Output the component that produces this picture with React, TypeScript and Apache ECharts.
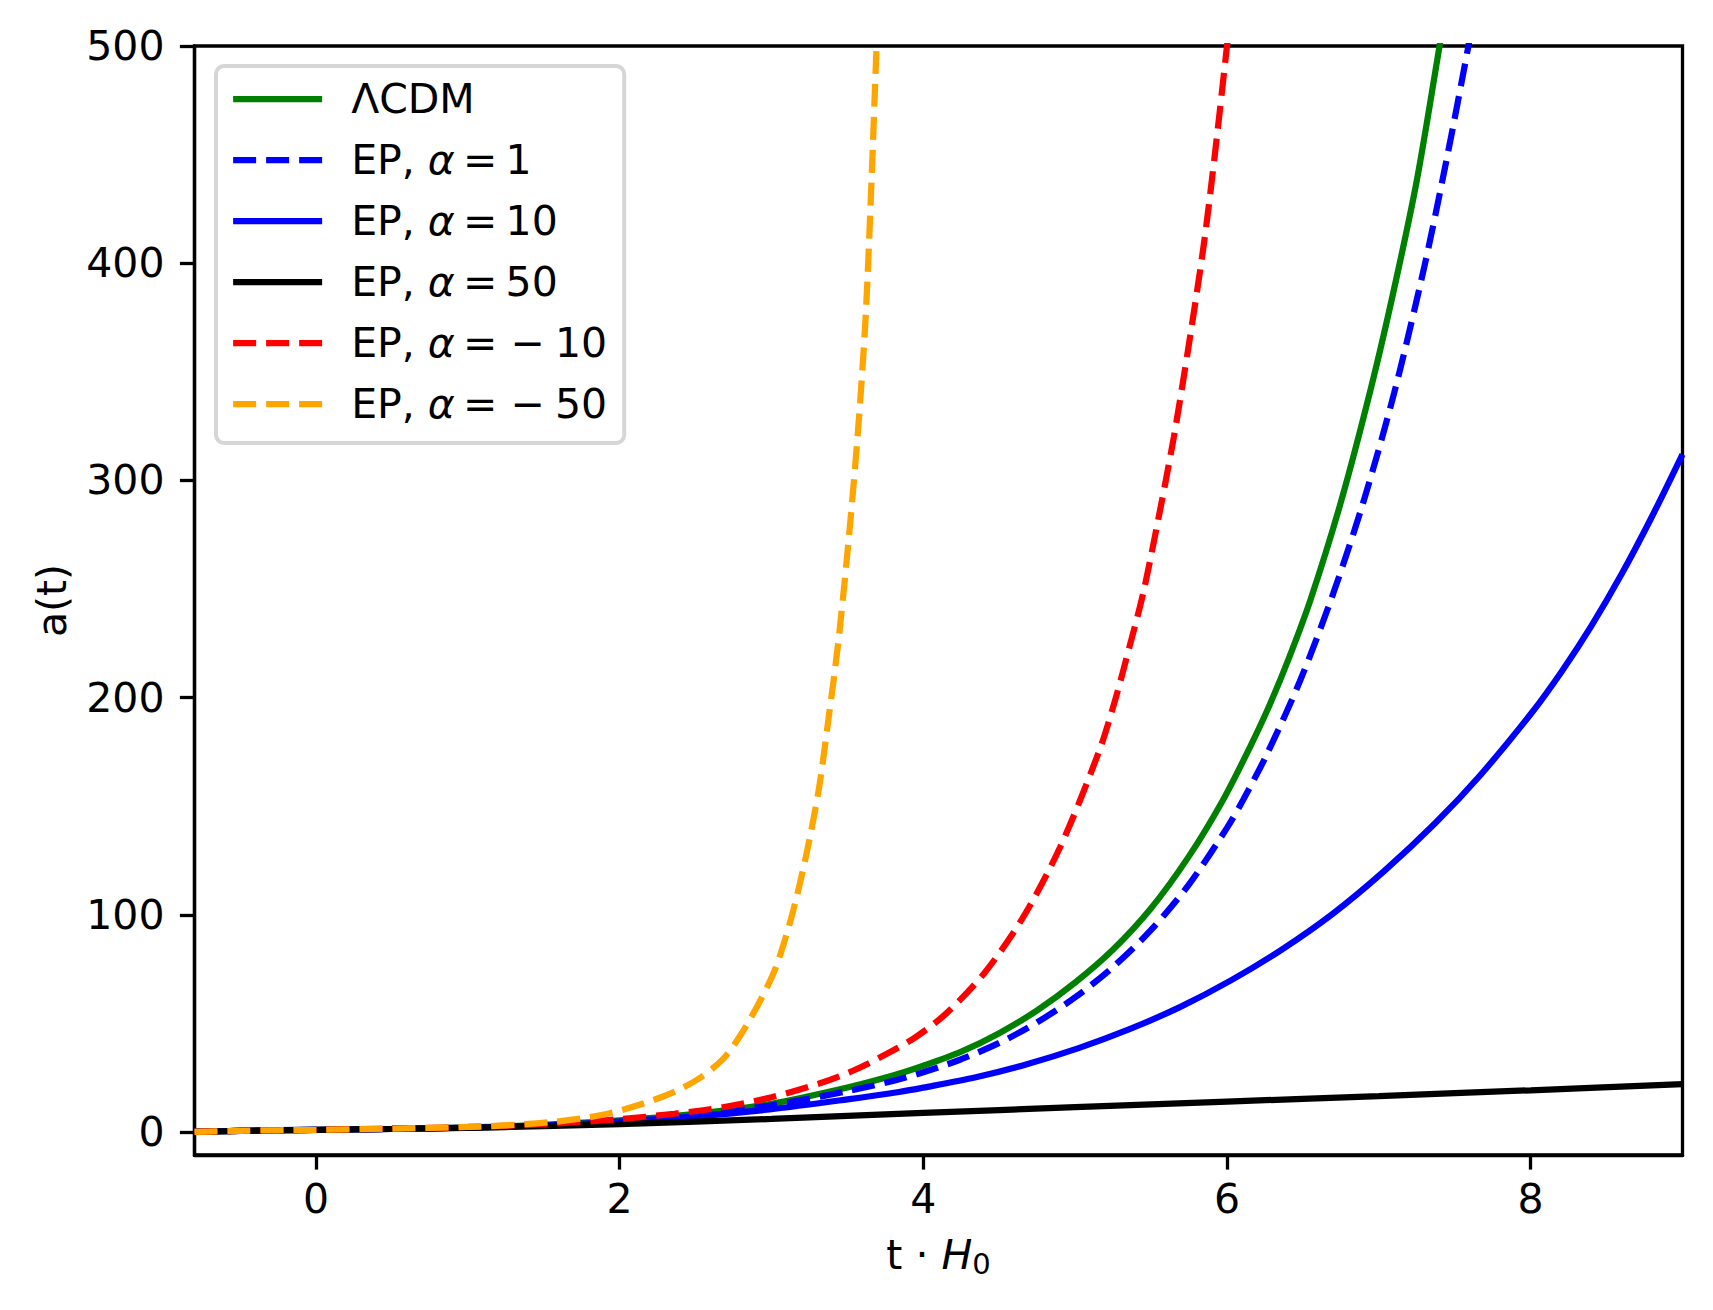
import React, { useEffect, useRef } from "react";
import * as echarts from "echarts";

const FONT = "DejaVu Sans";

// x (t·H0) and a(t) values
const lcdmT = [-0.8, -0.5, 0, 0.5, 1, 1.5, 2, 2.5, 3, 3.5, 3.8, 4.0, 4.25, 4.5, 4.75, 5.0, 5.25, 5.5, 5.75, 5.975, 6.15, 6.28, 6.41, 6.55, 6.75, 6.95, 7.1, 7.25, 7.4, 7.45];
const lcdmA = [0, 0.55, 1, 1.4, 2.1, 3.3, 5.3, 8.3, 13, 20.5, 26, 30.5, 37, 45.5, 56, 68.8, 84, 103, 127, 153, 177, 196.5, 218.5, 245, 290, 343, 388, 438, 500, 521];

const ep1T = [-0.8, -0.5, 0, 0.5, 1, 1.5, 2, 2.5, 3, 3.5, 3.8, 4.0, 4.25, 4.5, 4.75, 5.0, 5.25, 5.5, 5.75, 6.0, 6.107, 6.26, 6.48, 6.7, 6.9, 7.1, 7.3, 7.45, 7.59, 7.64];
const ep1A = [0, 0.55, 1, 1.4, 2.1, 3.2, 5.1, 8, 12.3, 18.8, 23.5, 27.5, 33.5, 41, 50.5, 62, 76, 93, 114, 140, 153, 173.5, 207.5, 248, 290.5, 340, 398.5, 449, 500, 520];

const ep10T = [-0.8, -0.5, 0, 0.5, 1, 1.5, 2, 2.5, 3, 3.5, 3.84, 4.0, 4.346, 4.682, 5.018, 5.354, 5.69, 6.026, 6.361, 6.697, 7.033, 7.369, 7.671, 8.007, 8.209, 8.4, 8.6, 8.8, 9.0];
const ep10A = [0, 0.55, 1, 1.4, 2, 3, 4.8, 7.2, 10.5, 15, 18.4, 20.4, 25.2, 31.2, 38.5, 47.2, 57.5, 69.8, 84, 100.5, 120, 142, 164.5, 193, 212.5, 233, 257, 283.5, 312];

const ep50T = [-0.8, -0.5, 0, 0.5, 1, 1.5, 2, 3, 4, 5, 6, 7, 8, 9];
const ep50A = [0, 0.5, 1, 1.4, 1.9, 2.7, 3.6, 6, 8.8, 11.4, 14, 16.5, 19.2, 22];

const epm10T = [-0.8, -0.5, 0, 0.5, 1, 1.5, 2, 2.36, 2.68, 3.0, 3.31, 3.54, 3.76, 3.95, 4.15, 4.4, 4.65, 4.9, 5.153, 5.26, 5.36, 5.448, 5.55, 5.65, 5.75, 5.85, 5.925, 6.0, 6.04];
const epm10A = [0, 0.55, 1, 1.5, 2.3, 3.6, 5.9, 8.4, 11.4, 16, 22.2, 28.3, 36, 43.7, 54.5, 73, 98, 131, 174.4, 198, 224, 248, 283, 320, 363, 410, 453, 500, 525];

const epm50T = [-0.8, -0.5, 0, 0.44, 1.08, 1.56, 1.88, 2.13, 2.36, 2.52, 2.68, 2.8, 2.93, 3.03, 3.13, 3.22, 3.31, 3.375, 3.44, 3.51, 3.57, 3.62, 3.66, 3.69, 3.71];
const epm50A = [0, 0.55, 1, 1.5, 2.5, 4.6, 7.8, 12.5, 18.5, 24.5, 33.5, 45, 61, 76, 98.5, 124.6, 157, 190, 225.5, 274, 323, 375, 440, 496, 530];

const TS = "\u2009"; // thin space, as in the math text
const MS = "\u2005"; // four-per-em space
const seriesNames = [
  "ΛCDM",
  `EP, α${TS}=${TS}1`,
  `EP, α${TS}=${TS}10`,
  `EP, α${TS}=${TS}50`,
  `EP, α${TS}= −${MS}10`,
  `EP, α${TS}= −${MS}50`,
];
const seriesColors = ["#008000", "#0000ff", "#0000ff", "#000000", "#ff0000", "#ffa500"];
const seriesDashed = [false, true, false, false, true, true];
const seriesT = [lcdmT, ep1T, ep10T, ep50T, epm10T, epm50T];
const seriesA = [lcdmA, ep1A, ep10A, ep50A, epm10A, epm50A];

const xTicks = [0, 2, 4, 6, 8];
const yTicks = [0, 100, 200, 300, 400, 500];

const zip = (xs: number[], ys: number[]) => xs.map((x, i) => [x, ys[i]]);

export default function App() {
  const ref = useRef<HTMLDivElement>(null);
  useEffect(() => {
    if (!ref.current) return;
    const chart = echarts.init(ref.current, null, { renderer: "svg" });
    const txt = { fontFamily: FONT, fontSize: 41, color: "#000" };
    const dash = [23, 10];
    const option: any = {
      animation: false,
      backgroundColor: "#ffffff",
      textStyle: { fontFamily: FONT },
      grid: {
        left: 194.5,
        right: 30.5,
        top: 46,
        bottom: 155,
        show: true,
        borderColor: "#000",
        borderWidth: 3.3,
        backgroundColor: "transparent",
      },
      xAxis: {
        type: "value",
        min: -0.8,
        max: 9,
        axisLine: { show: true, onZero: false, lineStyle: { color: "#000", width: 3.3 } },
        axisTick: { show: true, inside: false, length: 14.6, customValues: xTicks, lineStyle: { color: "#000", width: 3.3 } },
        axisLabel: { ...txt, customValues: xTicks, margin: 23 },
        splitLine: { show: false },
        name: "{n|t · }{i|H}{s|0}",
        nameLocation: "middle",
        nameGap: 79,
        nameTextStyle: {
          ...txt,
          rich: {
            n: { ...txt, lineHeight: 48, verticalAlign: "top" },
            i: { ...txt, fontStyle: "italic", lineHeight: 48, verticalAlign: "top" },
            s: { fontFamily: FONT, fontSize: 29, color: "#000", lineHeight: 48, verticalAlign: "top", padding: [15, 0, 0, 0] },
          },
        },
      },
      yAxis: {
        type: "value",
        min: -10.6,
        max: 500,
        axisLine: { show: true, onZero: false, lineStyle: { color: "#000", width: 3.3 } },
        axisTick: { show: true, inside: false, length: 14.6, customValues: yTicks, lineStyle: { color: "#000", width: 3.3 } },
        axisLabel: { ...txt, customValues: yTicks, margin: 30 },
        splitLine: { show: false },
        name: "a(t)",
        nameLocation: "middle",
        nameGap: 122,
        nameTextStyle: { ...txt },
      },
      legend: {
        orient: "vertical",
        left: 216,
        top: 66,
        padding: [9, 17, 15, 14],
        itemGap: 13,
        itemWidth: 89,
        itemHeight: 20,
        selectedMode: false,
        backgroundColor: "rgba(255,255,255,0.8)",
        borderColor: "#d6d6d6",
        borderWidth: 4,
        borderRadius: 8,
        itemStyle: { opacity: 0 },
        lineStyle: { width: 6.25 },
        data: seriesNames.map((name, i) => ({
          name,
          itemStyle: { opacity: 0 },
          lineStyle: { width: 6.25, color: seriesColors[i], type: seriesDashed[i] ? dash : "solid", cap: "butt" },
        })),
        formatter: (name: string) => {
          const k = name.indexOf("α");
          if (k < 0) return `{n|${name}}`;
          return `{n|${name.slice(0, k)}}{i|α}{n|${name.slice(k + 1)}}`;
        },
        textStyle: {
          ...txt,
          lineHeight: 48,
          padding: [0, 0, 0, 24],
          rich: {
            n: { ...txt, lineHeight: 48 },
            i: { ...txt, fontStyle: "italic", lineHeight: 48 },
          },
        },
      },
      series: seriesNames.map((name, i) => ({
        name,
        type: "line",
        data: zip(seriesT[i], seriesA[i]),
        showSymbol: false,
        symbol: "none",
        clip: true,
        silent: true,
        smooth: 0.3,
        color: seriesColors[i],
        lineStyle: { color: seriesColors[i], width: 6.25, type: seriesDashed[i] ? dash : "solid", cap: "butt" },
        emphasis: { disabled: true },
      })),
    };
    chart.setOption(option);
    return () => chart.dispose();
  }, []);
  return <div ref={ref} style={{ position: "absolute", left: 0, top: 0, width: 1713, height: 1310 }} />;
}
